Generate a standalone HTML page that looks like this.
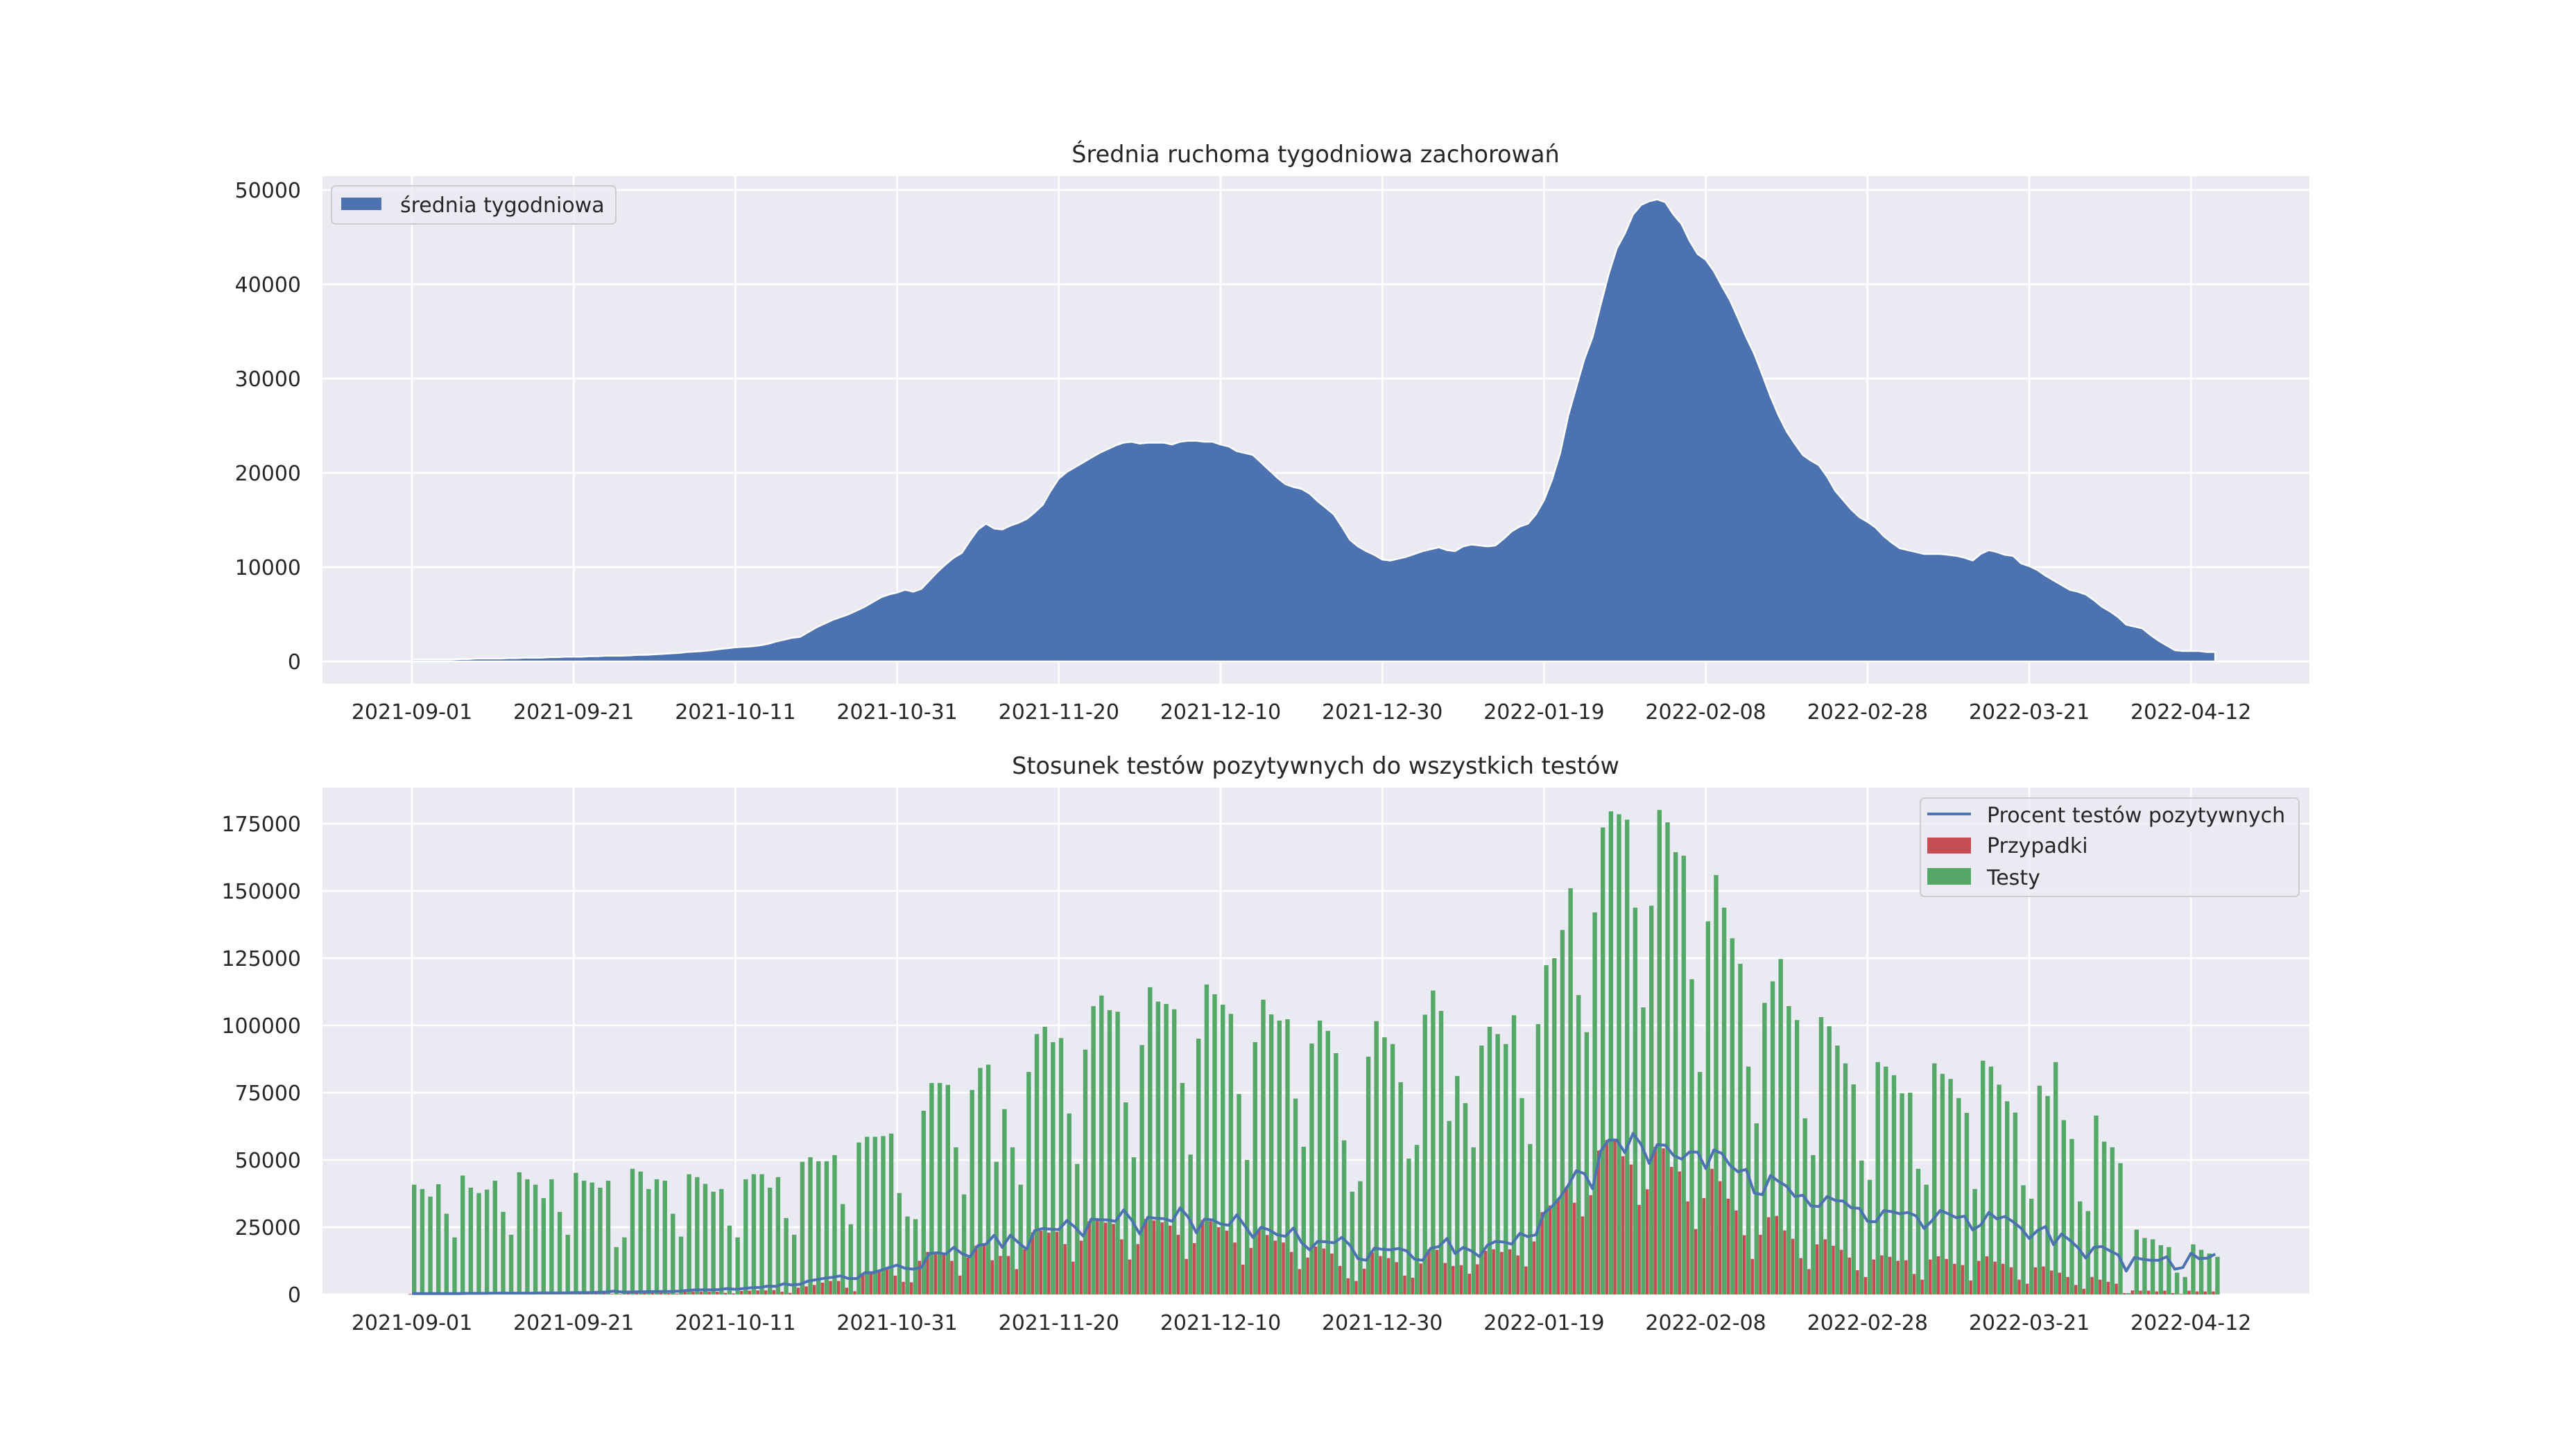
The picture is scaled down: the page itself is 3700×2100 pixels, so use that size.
<!DOCTYPE html>
<html><head><meta charset="utf-8">
<style>
html,body{margin:0;padding:0;background:#fff;}
svg{display:block;font-family:"DejaVu Sans","Liberation Sans",sans-serif;}
</style></head>
<body>
<svg id="fig" width="3700" height="2100" viewBox="0 0 3700 2100" xmlns="http://www.w3.org/2000/svg">
<rect x="0" y="0" width="3700" height="2100" fill="#ffffff"/>
<text x="1897" y="234" font-size="33.5" text-anchor="middle" fill="#262626">Średnia ruchoma tygodniowa zachorowań</text>
<text x="1897" y="1116" font-size="33.5" text-anchor="middle" fill="#262626">Stosunek testów pozytywnych do wszystkich testów</text>
<g id="top"></g>
<g id="bot"></g>
</svg>
<script>
const xLabels = ["2021-09-01","2021-09-21","2021-10-11","2021-10-31","2021-11-20","2021-12-10","2021-12-30","2022-01-19","2022-02-08","2022-02-28","2022-03-21","2022-04-12"];
const topTicks = [0,10000,20000,30000,40000,50000];
const botTicks = [0,25000,50000,75000,100000,125000,150000,175000];
// weekly moving average (thousands)
const avgK = [0.2,0.2,0.2,0.2,0.2,0.2,0.25,0.25,0.3,0.3,
0.3,0.3,0.35,0.35,0.4,0.4,0.4,0.45,0.45,0.5,
0.5,0.5,0.55,0.55,0.6,0.6,0.6,0.65,0.7,0.7,
0.75,0.8,0.85,0.9,1.0,1.05,1.1,1.2,1.3,1.4,
1.5,1.55,1.6,1.7,1.85,2.1,2.3,2.5,2.6,3.1,
3.6,4.0,4.4,4.7,5.0,5.4,5.8,6.3,6.8,7.1,
7.3,7.6,7.4,7.7,8.6,9.5,10.3,11.0,11.5,12.8,
14.0,14.6,14.1,14.0,14.4,14.7,15.1,15.8,16.6,18.1,
19.4,20.1,20.6,21.1,21.6,22.1,22.5,22.9,23.2,23.3,
23.1,23.2,23.2,23.2,23.0,23.3,23.4,23.4,23.3,23.3,
23.0,22.8,22.3,22.1,21.9,21.1,20.3,19.5,18.8,18.5,
18.3,17.8,17.0,16.3,15.6,14.3,12.9,12.2,11.7,11.3,
10.8,10.7,10.9,11.1,11.4,11.7,11.9,12.1,11.8,11.7,
12.2,12.4,12.3,12.2,12.3,13.0,13.8,14.3,14.6,15.6,
17.1,19.3,22.1,26.1,29.1,32.1,34.4,37.8,41.1,43.8,
45.4,47.4,48.4,48.8,49.0,48.7,47.4,46.4,44.6,43.2,
42.6,41.4,39.8,38.3,36.4,34.4,32.6,30.4,28.1,26.1,
24.4,23.1,21.9,21.3,20.8,19.6,18.1,17.1,16.1,15.3,
14.8,14.2,13.3,12.6,12.0,11.8,11.6,11.4,11.4,11.4,
11.3,11.2,11.0,10.7,11.4,11.8,11.6,11.3,11.2,10.4,
10.1,9.7,9.1,8.6,8.1,7.6,7.4,7.1,6.5,5.8,
5.3,4.7,3.9,3.7,3.5,2.8,2.2,1.7,1.2,1.1,
1.1,1.1,1.0,1.0];
// tests (thousands)
const testsK = [40.8,39.2,36.4,41.0,30.0,21.2,44.2,39.7,37.7,39.0,
42.3,30.7,22.2,45.4,42.8,40.8,35.8,42.8,30.7,22.2,
45.2,42.3,41.6,39.7,42.3,17.6,21.2,46.7,45.7,39.2,
42.8,42.3,30.0,21.5,44.7,43.6,41.1,38.2,39.2,25.6,
21.2,42.8,44.7,44.7,39.7,43.6,28.4,22.2,49.3,51.0,
49.5,49.5,51.8,33.6,26.1,56.5,58.6,58.6,58.9,59.8,
37.7,29.0,28.0,68.3,78.6,78.6,77.9,54.7,37.2,76.0,
84.2,85.4,49.3,68.9,54.7,40.8,82.7,96.8,99.5,93.8,
95.3,67.3,48.5,91.0,107.2,111.1,105.7,105.1,71.4,51.0,
92.7,114.2,108.9,108.0,106.0,78.6,52.0,95.1,115.2,111.6,
107.7,104.3,74.5,50.0,93.8,109.6,104.1,101.8,102.3,72.8,
54.9,93.3,101.8,98.0,89.7,57.3,38.2,42.1,88.4,101.6,
95.6,93.1,78.9,50.5,55.6,104.0,113.0,105.4,64.5,81.2,
71.1,54.7,92.5,99.5,96.8,93.1,103.8,73.0,55.9,100.5,
122.4,125.0,135.5,151.0,111.3,97.5,142.0,173.6,179.6,178.5,
176.5,143.8,106.7,144.5,180.1,175.5,164.4,163.1,117.2,82.7,
138.7,155.9,143.8,132.4,122.9,84.7,63.6,108.4,116.4,124.7,
107.2,102.0,65.5,51.8,103.1,99.7,92.5,85.9,78.1,49.8,
42.6,86.4,84.7,81.5,74.8,75.0,46.7,40.8,85.9,82.0,
80.1,73.0,67.5,39.2,86.9,84.7,78.0,71.8,67.6,40.6,
35.6,77.6,73.8,86.4,64.8,57.8,34.6,31.0,66.5,56.8,
54.7,48.8,0.5,24.1,21.0,20.5,18.3,17.6,8.1,6.5,
18.6,16.6,15.2,14.0];
// cases (thousands)
const casesK = [0.2,0.2,0.2,0.2,0.1,0.1,0.2,0.2,0.2,0.2,
0.3,0.2,0.1,0.3,0.3,0.3,0.3,0.3,0.2,0.1,
0.4,0.4,0.4,0.4,0.4,0.2,0.2,0.6,0.6,0.6,
0.6,0.7,0.5,0.3,0.9,1.0,1.0,1.0,1.0,0.6,
0.4,1.3,1.4,1.5,1.5,1.6,1.0,0.6,2.5,3.0,
3.5,4.4,5.0,5.0,2.5,1.2,7.5,7.7,8.7,9.4,
7.0,4.7,4.5,12.5,15.8,15.6,14.7,12.5,7.0,13.7,
18.1,18.7,12.7,14.3,14.3,9.4,16.8,23.1,23.7,23.0,
23.3,18.7,12.2,20.0,27.2,27.7,26.7,26.2,20.5,13.0,
18.7,28.1,27.5,26.8,25.6,22.2,13.2,19.1,27.7,27.2,
25.0,23.7,19.3,11.1,17.3,24.0,22.1,20.0,19.3,15.8,
9.4,13.7,17.8,17.1,15.2,10.6,6.0,5.0,9.6,15.6,
14.3,13.5,12.0,7.0,6.2,11.5,16.8,16.6,11.7,10.6,
10.9,7.7,11.2,16.2,16.8,15.8,16.8,14.5,10.4,19.7,
30.6,33.1,35.6,39.9,34.1,29.0,36.9,53.5,57.4,57.2,
51.4,48.3,33.3,39.1,54.9,54.3,47.4,45.7,34.6,24.3,
35.8,46.7,42.1,35.6,31.2,22.0,13.2,22.2,28.7,29.2,
23.8,20.7,13.5,9.4,18.6,20.5,18.1,16.6,13.7,9.0,
6.5,13.0,14.5,14.0,12.5,12.7,7.6,5.5,13.0,14.2,
13.2,11.4,10.9,5.2,12.5,14.2,12.2,11.4,10.1,5.5,
4.0,10.1,10.4,8.9,8.1,6.5,3.5,2.1,6.5,5.5,
4.7,4.0,0.5,1.5,1.4,1.4,1.1,1.4,0.5,0.2,
1.4,1.1,1.1,1.1];
// positive share line (plotted in thousands on same axis)
const pctK = [0.3,0.3,0.3,0.3,0.3,0.3,0.3,0.4,0.4,0.4,
0.5,0.5,0.5,0.5,0.5,0.5,0.6,0.6,0.6,0.6,
0.7,0.7,0.7,0.8,0.9,1.2,0.9,0.9,1.0,1.0,
1.1,1.1,1.1,1.2,1.5,1.7,1.7,1.7,1.8,2.2,
1.9,2.2,2.5,2.6,3.1,3.0,4.0,3.5,3.8,5.0,
5.5,6.0,6.4,6.9,5.9,5.9,8.1,8.1,9.0,10.0,
10.9,9.7,9.4,10.0,15.2,15.5,15.0,17.5,15.2,14.0,
18.2,18.7,22.0,17.5,22.0,19.3,16.8,23.7,24.5,24.3,
24.1,27.5,25.0,21.7,28.0,27.8,27.7,27.2,31.4,27.7,
22.5,28.7,28.3,28.2,27.2,32.2,28.7,23.0,28.0,27.7,
26.2,25.7,29.6,25.5,21.2,25.0,24.0,22.2,21.6,24.7,
19.3,16.6,19.7,19.6,19.2,21.2,18.3,13.3,12.7,17.2,
16.8,16.6,17.1,16.2,13.1,12.7,17.2,17.8,20.8,15.2,
17.5,16.2,14.1,18.3,19.7,19.5,18.7,22.7,21.5,22.2,
30.3,32.7,36.2,40.6,46.0,44.9,39.3,53.3,57.4,57.4,
52.7,59.9,55.8,48.7,55.7,55.5,51.7,50.3,53.0,52.9,
46.8,53.7,52.4,48.0,45.6,46.5,37.7,37.1,44.2,42.1,
40.2,36.4,36.9,32.9,32.7,36.4,35.0,34.7,32.2,32.0,
27.2,27.0,31.1,30.8,30.0,30.5,29.2,24.5,27.5,31.2,
30.0,28.5,29.1,24.0,25.8,30.5,28.1,29.0,27.0,24.6,
20.8,23.7,25.2,18.5,22.5,20.2,17.5,13.5,17.5,17.8,
16.2,14.7,8.7,13.7,13.1,12.7,12.7,14.0,9.4,10.0,
15.3,13.3,13.5,15.0];

const NS="http://www.w3.org/2000/svg";
const AX_L=465, AX_R=3330;
const X0=594, DX=11.66;
function xPos(i){return X0+i*DX;}
function yTop(v){return 954 - v*(680/50000);}
function yBot(v){return 1867 - v*(679/175000);}
function mk(tag, attrs, parent){
  const e=document.createElementNS(NS,tag);
  for(const k in attrs) e.setAttribute(k,attrs[k]);
  parent.appendChild(e); return e;
}
function axes(g, top, bottom, ticks, yf, nameP){
  const bg=mk('rect',{x:AX_L,y:top,width:AX_R-AX_L,height:bottom-top,fill:'#eaeaf2'},g);
  
  
  ticks.forEach(t=>{
    const y=yf(t);
    const l=mk('line',{x1:AX_L,x2:AX_R,y1:y,y2:y,stroke:'#fff','stroke-width':2.6},g);
    
    
    const tx=mk('text',{x:434,y:y+11,'font-size':30,'text-anchor':'end',fill:'#262626'},g);
    
    
    tx.textContent=String(t);
  });
  xLabels.forEach((lab,k)=>{
    const x=xPos(k*20);
    const l=mk('line',{x1:x,x2:x,y1:top,y2:bottom,stroke:'#fff','stroke-width':2.6},g);
    
    
    const tx=mk('text',{x:x,y:bottom+51,'font-size':30,'text-anchor':'middle',fill:'#262626'},g);
    
    
    tx.textContent=lab;
  });
}
// TOP chart
const gT=document.getElementById('top');
axes(gT,254,986,topTicks,yTop,'top');
let d='M'+xPos(0)+','+yTop(0);
avgK.forEach((v,i)=>{d+=' L'+xPos(i).toFixed(1)+','+yTop(v*1000).toFixed(1);});
d+=' L'+xPos(avgK.length-1).toFixed(1)+','+yTop(0)+' Z';
const area=mk('path',{d:d,fill:'#4c72b0',stroke:'#ffffff','stroke-width':2.5,'stroke-linejoin':'round'},gT);


// top legend
const lgT=mk('g',{},gT);


mk('rect',{x:478,y:268,width:410,height:55,rx:6,fill:'#eaeaf2','fill-opacity':0.8,stroke:'#cccccc','stroke-width':2},lgT);
mk('rect',{x:492,y:285,width:58,height:18,fill:'#4c72b0'},lgT);
const lt=mk('text',{x:577,y:306,'font-size':30,fill:'#262626'},lgT);


lt.textContent='średnia tygodniowa';

// BOTTOM chart
const gB=document.getElementById('bot');
axes(gB,1136,1867,botTicks,yBot,'bottom');
testsK.forEach((v,i)=>{
  const c=xPos(i);
  const y=yBot(v*1000);
  const r=mk('rect',{x:c.toFixed(1),y:y.toFixed(1),width:6.4,height:(1867-y).toFixed(1),fill:'#55a868'},gB);
  
  
});
casesK.forEach((v,i)=>{
  const c=xPos(i);
  const y=yBot(v*1000);
  const r=mk('rect',{x:(c-5).toFixed(1),y:y.toFixed(1),width:4.5,height:(1867-y).toFixed(1),fill:'#c44e52'},gB);
  
  
});
const pts=pctK.map((v,i)=>xPos(i).toFixed(1)+','+yBot(v*1000).toFixed(1)).join(' ');
const pl=mk('polyline',{points:pts,fill:'none',stroke:'#4c72b0','stroke-width':4,'stroke-linejoin':'round'},gB);


// bottom legend
const lgB=mk('g',{},gB);


mk('rect',{x:2769,y:1151,width:546,height:142,rx:6,fill:'#eaeaf2','fill-opacity':0.8,stroke:'#cccccc','stroke-width':2},lgB);
mk('line',{x1:2779,x2:2842,y1:1174,y2:1174,stroke:'#4c72b0','stroke-width':4},lgB);
mk('rect',{x:2779,y:1208,width:63,height:23,fill:'#c44e52'},lgB);
mk('rect',{x:2779,y:1252,width:63,height:24,fill:'#55a868'},lgB);
const e1=mk('text',{x:2865,y:1186,'font-size':30,fill:'#262626'},lgB);


e1.textContent='Procent testów pozytywnych';
const e2=mk('text',{x:2865,y:1230,'font-size':30,fill:'#262626'},lgB);


e2.textContent='Przypadki';
const e3=mk('text',{x:2865,y:1276,'font-size':30,fill:'#262626'},lgB);


e3.textContent='Testy';
</script>
</body></html>
